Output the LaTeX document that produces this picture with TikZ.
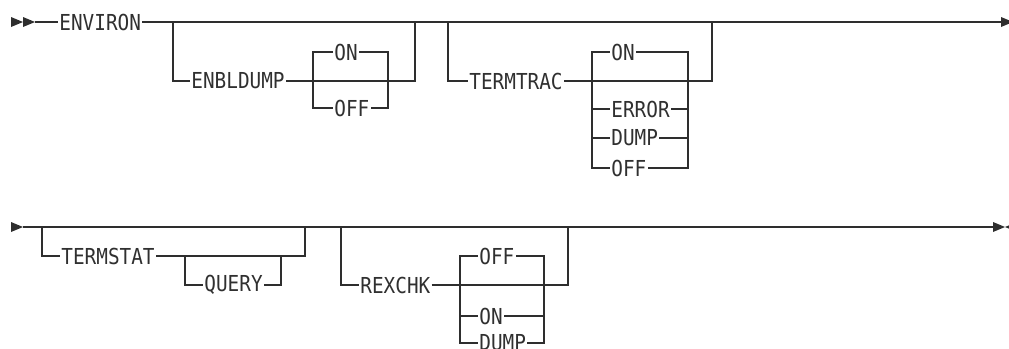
\documentclass[tikz,border=0pt]{standalone}
\usepackage{fontspec}
\newfontfamily\railfont[FakeStretch=0.88]{DejaVu Sans Mono}
\usepackage{xcolor}
\definecolor{railLine}{HTML}{2E2E2E}
\definecolor{railText}{HTML}{303030}

\begin{document}
\begin{tikzpicture}[x=1pt, y=-1pt,
  rail/.style={draw=railLine, line width=1.5pt},
  kw/.style={anchor=west, inner sep=1.2pt, text=railText, font=\railfont\fontsize{22}{22}\selectfont},
  marker/.style={fill=railLine}]
  \useasboundingbox (0,0) rectangle (1009,348);
  % first line
  \fill[marker] (11,17) -- (23,22) -- (11,27) -- cycle;
  \fill[marker] (23,17) -- (35,22) -- (23,27) -- cycle;
  \coordinate (start1) at (35,22);
  \node[kw] (environ) at (58,22) {ENVIRON};
  \coordinate (dumpIn) at (173,22);
  \coordinate (dumpOut) at (415,22);
  \coordinate (tracIn) at (448,22);
  \coordinate (tracOut) at (712,22);
  \coordinate (end1) at (1002,22);
  \draw[rail] (start1) -- (environ.west);
  \draw[rail] (environ.east) -- (end1);
  \fill[marker] (1001,17) -- (1013,22) -- (1001,27) -- cycle;

  \node[kw] (enbldump) at (190,81) {ENBLDUMP};
  \coordinate (dumpL) at (313,81);
  \coordinate (dumpR) at (388,81);
  \coordinate (dumpJoin) at (415,81);
  \node[kw] (dumpOn) at (333,52) {ON};
  \node[kw] (dumpOff) at (333,108) {OFF};
  \draw[rail] (dumpIn) |- (enbldump.west);
  \draw[rail] (enbldump.east) -- (dumpJoin) -- (dumpOut);
  \draw[rail] (dumpOn.west) -- (dumpL |- dumpOn) -- (dumpL |- dumpOff) -- (dumpOff.west);
  \draw[rail] (dumpOn.east) -- (dumpR |- dumpOn) -- (dumpR |- dumpOff) -- (dumpOff.east);

  \node[kw] (termtrac) at (468,81) {TERMTRAC};
  \coordinate (tracL) at (592,81);
  \coordinate (tracR) at (688,81);
  \coordinate (tracJoin) at (712,81);
  \node[kw] (tracOn) at (610,52) {ON};
  \node[kw] (tracError) at (610,109) {ERROR};
  \node[kw] (tracDump) at (610,138) {DUMP};
  \node[kw] (tracOff) at (610,168) {OFF};
  \draw[rail] (tracIn) |- (termtrac.west);
  \draw[rail] (termtrac.east) -- (tracJoin) -- (tracOut);
  \draw[rail] (tracOn.west) -- (tracL |- tracOn) -- (tracL |- tracOff) -- (tracOff.west);
  \draw[rail] (tracOn.east) -- (tracR |- tracOn) -- (tracR |- tracOff) -- (tracOff.east);
  \draw[rail] (tracError.west) -- (tracL |- tracError);
  \draw[rail] (tracError.east) -- (tracR |- tracError);
  \draw[rail] (tracDump.west) -- (tracL |- tracDump);
  \draw[rail] (tracDump.east) -- (tracR |- tracDump);

  % second line
  \fill[marker] (11,222) -- (23,227) -- (11,232) -- cycle;
  \coordinate (start2) at (23,227);
  \coordinate (statIn) at (42,227);
  \coordinate (statOut) at (305,227);
  \coordinate (rexIn) at (341,227);
  \coordinate (rexOut) at (568,227);
  \coordinate (end2) at (993,227);
  \draw[rail] (start2) -- (end2);
  \fill[marker] (993,222) -- (1005,227) -- (993,232) -- cycle;
  \fill[marker] (1017,222) -- (1005,227) -- (1017,232) -- cycle;

  \node[kw] (termstat) at (60,256) {TERMSTAT};
  \coordinate (statJoin) at (305,256);
  \coordinate (queryIn) at (185,256);
  \coordinate (queryOut) at (281,256);
  \node[kw] (query) at (203,285) {QUERY};
  \draw[rail] (statIn) |- (termstat.west);
  \draw[rail] (termstat.east) -- (statJoin) -- (statOut);
  \draw[rail] (queryIn) |- (query.west);
  \draw[rail] (query.east) -| (queryOut);

  \node[kw] (rexchk) at (359,285) {REXCHK};
  \coordinate (rexL) at (460,285);
  \coordinate (rexR) at (544,285);
  \coordinate (rexJoin) at (568,285);
  \node[kw] (rexOff) at (478,256) {OFF};
  \node[kw] (rexOn) at (478,316) {ON};
  \node[kw] (rexDump) at (478,343) {DUMP};
  \draw[rail] (rexIn) |- (rexchk.west);
  \draw[rail] (rexchk.east) -- (rexJoin) -- (rexOut);
  \draw[rail] (rexOff.west) -- (rexL |- rexOff) -- (rexL |- rexDump) -- (rexDump.west);
  \draw[rail] (rexOff.east) -- (rexR |- rexOff) -- (rexR |- rexDump) -- (rexDump.east);
  \draw[rail] (rexOn.west) -- (rexL |- rexOn);
  \draw[rail] (rexOn.east) -- (rexR |- rexOn);
\end{tikzpicture}
\end{document}
